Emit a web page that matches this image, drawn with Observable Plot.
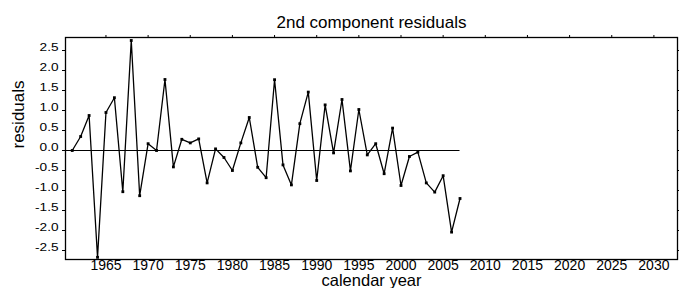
<!DOCTYPE html>
<html>
<head>
<meta charset="utf-8">
<script src="https://cdn.jsdelivr.net/npm/d3@7"></script>
<script src="https://cdn.jsdelivr.net/npm/@observablehq/plot@0.6"></script>
<style>
  html, body { margin: 0; padding: 0; background: #fff; }
  #chart svg { display: block; }
</style>
</head>
<body>
<div id="chart"></div>
<script>
// ---- data ----
const years = [1961,1962,1963,1964,1965,1966,1967,1968,1969,1970,
               1971,1972,1973,1974,1975,1976,1977,1978,1979,1980,
               1981,1982,1983,1984,1985,1986,1987,1988,1989,1990,
               1991,1992,1993,1994,1995,1996,1997,1998,1999,2000,
               2001,2002,2003,2004,2005,2006,2007];
const residuals = [0.00,0.35,0.875,-2.67,0.95,1.32,-1.03,2.75,-1.13,0.17,
                   0.00,1.775,-0.41,0.28,0.19,0.29,-0.81,0.04,-0.175,-0.50,
                   0.19,0.825,-0.42,-0.68,1.77,-0.36,-0.86,0.67,1.46,-0.75,
                   1.14,-0.06,1.275,-0.51,1.025,-0.11,0.17,-0.58,0.56,-0.875,
                   -0.15,-0.04,-0.81,-1.04,-0.63,-2.04,-1.20];
const xTicks = [1965,1970,1975,1980,1985,1990,1995,2000,2005,2010,2015,2020,2025,2030];
const yTicks = [-2.5,-2.0,-1.5,-1.0,-0.5,0.0,0.5,1.0,1.5,2.0,2.5];
const xDomain = [1960.2, 2032.8];
const yDomain = [-2.725, 2.825];
const baseline = [0];
const titleText = "2nd component residuals";
const xLabel = "calendar year";
const yLabel = "residuals";

const data = years.map((yr, i) => ({year: yr, value: residuals[i]}));
const lastYear = years[years.length - 1];

const chart = Plot.plot({
  width: 679,
  height: 288,
  marginLeft: 65,
  marginRight: 2,
  marginTop: 37,
  marginBottom: 29,
  style: {fontFamily: "'Liberation Sans', Arial, Helvetica, sans-serif", color: "#000", background: "#fff"},
  x: {domain: xDomain},
  y: {domain: yDomain},
  marks: [
    Plot.frame({stroke: "#000", strokeWidth: 1.3}),
    Plot.axisX({anchor: "bottom", ticks: xTicks, tickSize: 0, tickPadding: 1, fontSize: 14, label: null, tickFormat: d => String(d)}),
    Plot.axisX({anchor: "top", ticks: xTicks, tickSize: 3, tickFormat: () => "", label: null}),
    Plot.axisY({anchor: "left", ticks: yTicks, tickSize: 3, tickPadding: 4, fontSize: 10.5, label: null, tickFormat: d => d.toFixed(1)}),
    Plot.axisY({anchor: "right", ticks: yTicks, tickSize: 2, tickFormat: () => "", label: null}),
    Plot.ruleY(baseline, {x1: xDomain[0], x2: lastYear, stroke: "#000", strokeWidth: 1.2}),
    Plot.line(data, {x: "year", y: "value", stroke: "#000", strokeWidth: 1.3, strokeLinejoin: "miter"}),
    Plot.dot(data, {x: "year", y: "value", symbol: "square", r: 1.6, fill: "#000", stroke: null}),
    Plot.text([titleText], {frameAnchor: "top", dy: -10, lineAnchor: "bottom", fontSize: 17, fill: "#000"}),
    Plot.text([xLabel], {frameAnchor: "bottom", dy: 26, lineAnchor: "bottom", fontSize: 16.5, fill: "#000"}),
    Plot.text([yLabel], {frameAnchor: "left", dx: -47, rotate: -90, lineAnchor: "middle", fontSize: 17, fill: "#000"})
  ]
});

document.getElementById("chart").appendChild(chart);

// Y tick labels in the reference are horizontally stretched
d3.select(chart).selectAll('g[aria-label="y-axis tick label"] text').each(function() {
  const el = this;
  const t = el.getAttribute("transform") || "";
  const x = +el.getAttribute("x") || 0;
  const y = +el.getAttribute("y") || 0;
  el.removeAttribute("x");
  el.removeAttribute("y");
  el.setAttribute("transform", `${t} translate(${x},${y}) scale(1.3,1)`);
});
</script>
</body>
</html>
